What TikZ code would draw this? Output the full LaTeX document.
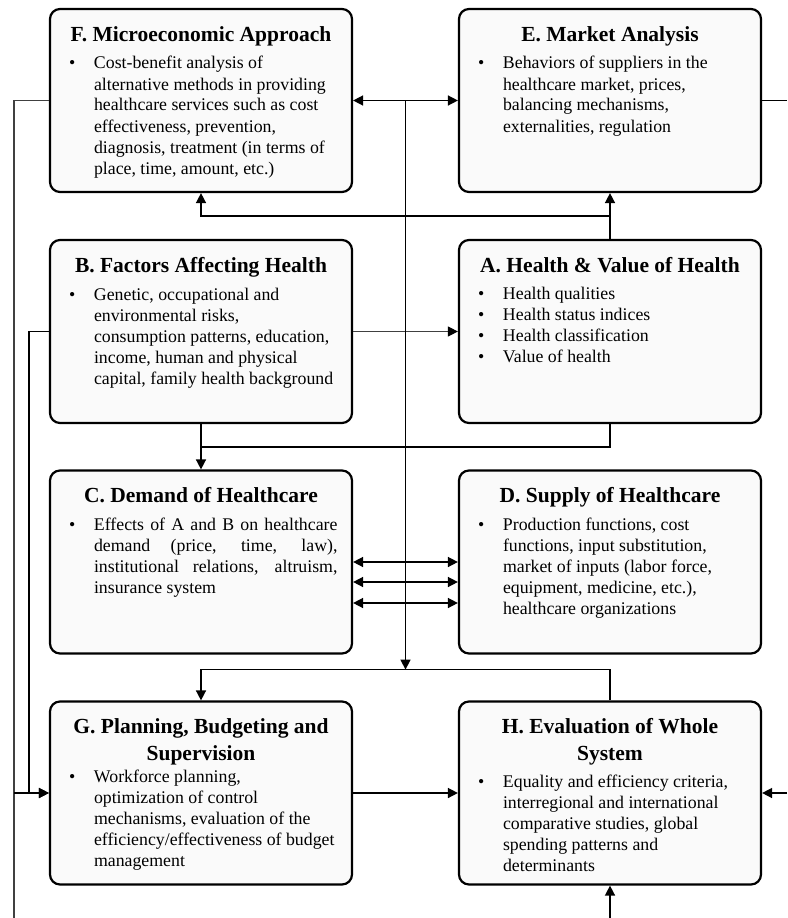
\documentclass[tikz,border=0pt]{standalone}
\usepackage{fontspec}
\setmainfont{Liberation Serif}
\usepackage{xcolor}
\usetikzlibrary{arrows.meta,calc}
\definecolor{panelfill}{RGB}{250,250,250}
\tikzset{
	panel/.style={
			draw, line width=2.2pt, rounded corners=10pt, fill=panelfill,
			inner xsep=0pt, inner ysep=9pt,
			minimum width=302pt, minimum height=183pt
		},
	conn/.style={line width=1.5pt},
	thinconn/.style={line width=1.2pt, black!75},
	tip/.style={-{Triangle[length=10pt,width=10pt,color=black]}},
	arr/.style={conn, tip},
	dblarr/.style={conn, {Triangle[length=10pt,width=10pt]}-{Triangle[length=10pt,width=10pt]}}
}
% title line of a panel, optional gap to the first bullet
\newcommand{\ptitle}[2][28]{{\centering\bfseries\fontsize{21.5}{27}\selectfont\rule{0pt}{23pt}#2\par}\vspace{\dimexpr#1pt-21pt\relax}}
\newcommand{\bitem}{\par\hangindent=29.5pt\hangafter=1\noindent\makebox[29.5pt][l]{\hspace{4.5pt}\textbullet}}
\newcommand{\pbody}[1]{\parbox[t][165pt][t]{273pt}{\fontsize{17.8}{21}\selectfont #1}}

\begin{document}
\begin{tikzpicture}[x=1pt,y=1pt]
			\useasboundingbox (0,0) rectangle (787,-918);

			% Top row
			\node[panel] (F) at (201,-100.5) {\pbody{\ptitle{F. Microeconomic Approach}
					\bitem Cost-benefit analysis of\\ alternative methods in providing\\ healthcare services such as cost\\ effectiveness, prevention,\\ diagnosis, treatment (in terms of\\ place, time, amount, etc.)}};
			\node[panel] (E) at (610,-100.5) {\pbody{\ptitle{E. Market Analysis}
					\bitem Behaviors of suppliers in the\\ healthcare market, prices,\\ balancing mechanisms,\\ externalities, regulation}};

			% Second row
			\node[panel] (B) at (201,-331.5) {\pbody{\ptitle{B. Factors Affecting Health}
					\bitem Genetic, occupational and\\ environmental risks,\\ consumption patterns, education,\\ income, human and physical\\ capital, family health background}};
			\node[panel] (A) at (610,-331.5) {\pbody{\ptitle[27]{A. Health \& Value of Health}
					\bitem Health qualities
					\bitem Health status indices
					\bitem Health classification
					\bitem Value of health}};

			% Third row
			\node[panel] (C) at (201,-562) {\pbody{\ptitle{C. Demand of Healthcare}
					\bitem Effects of A and B on healthcare\linebreak demand (price, time, law),\linebreak institutional relations, altruism,\linebreak insurance system}};
			\node[panel] (D) at (610,-562) {\pbody{\ptitle{D. Supply of Healthcare}
					\bitem Production functions, cost\\ functions, input substitution,\\ market of inputs (labor force,\\ equipment, medicine, etc.),\\ healthcare organizations}};

			% Bottom row
			\node[panel] (G) at (201,-793) {\pbody{\ptitle[22]{G. Planning, Budgeting and\\ Supervision}
					\bitem Workforce planning,\\ optimization of control\\ mechanisms, evaluation of the\\ efficiency/effectiveness of budget\\ management}};
			\node[panel] (H) at (610,-793) {\pbody{\ptitle[27]{H. Evaluation of Whole\\ System}
					\bitem Equality and efficiency criteria,\\ interregional and international\\ comparative studies, global\\ spending patterns and\\ determinants}};

			% Helper points
			\coordinate (mid) at ($(F.east)!0.5!(E.west)$);
			\coordinate (ae) at ($(A.north)!0.5!(E.south)$);
			\coordinate (bc) at ($(B.south)!0.5!(C.north)$);
			\coordinate (hg) at ($(C.south)+(0,-15)$);
			\coordinate (outL) at (14,-918);
			\coordinate (outR) at (787,-100.5);
			\coordinate (inR) at (787,-793);
			\coordinate (inB) at (610,-918);

			% Connectors
			\draw[dblarr] (F.east) -- (E.west);
			\draw[conn] (E.east) -- (outR);
			\draw[arr] (A.north) -- (E.south);
			\draw[arr] (ae) -| (F.south);
			\draw[thinconn, tip] (B.east) -- (A.west);
			\draw[arr] (B.south) -- (C.north);
			\draw[conn] (A.south) |- (bc);
			\foreach \dy in {0,20,41}
				\draw[dblarr] ([yshift=-\dy pt]C.east) -- ([yshift=-\dy pt]D.west);
			\draw[arr] (mid) -- (mid |- hg);
			\draw[arr] (H.north) |- (hg) -- (G.north);
			\draw[arr] (G.east) -- (H.west);
			\draw[arr] (inR) -- (H.east);
			\draw[arr] (inB) -- (H.south);

			% Feedback lines on the left
			\draw[thinconn] (F.west) -| (outL);
			\draw[arr] (outL |- G.west) -- (G.west);
			\draw[arr] (B.west) -- ++(-20,0) |- (G.west);
		\end{tikzpicture}
\end{document}
